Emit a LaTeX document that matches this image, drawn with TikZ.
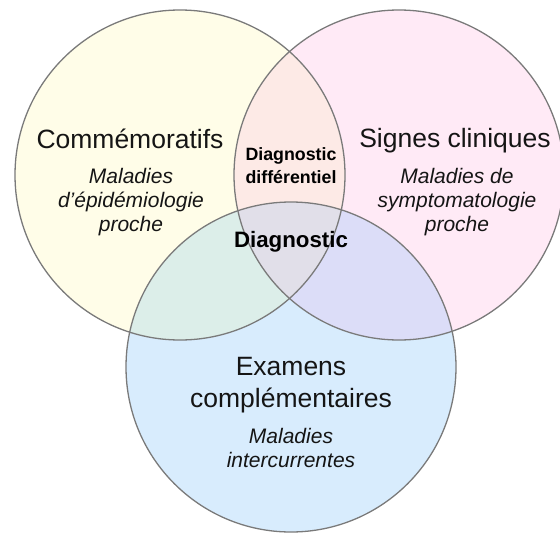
\documentclass[tikz,border=0pt]{standalone}
\usepackage{fontspec}
\setmainfont{Liberation Sans}
\definecolor{cL}{HTML}{FFFDE8}
\definecolor{cR}{HTML}{FFEAF6}
\definecolor{cB}{HTML}{D8ECFD}
\definecolor{cLR}{HTML}{FDEAE6}
\definecolor{cLB}{HTML}{DCEEE9}
\definecolor{cRB}{HTML}{DCDDF8}
\definecolor{cC}{HTML}{E1DFE9}
\definecolor{edge}{HTML}{7A7A7A}
\definecolor{ink}{HTML}{151515}
\tikzset{
  ring/.style={draw=edge, line width=1.3pt},
  title/.style={anchor=base, inner sep=0pt, text=ink, font=\fontsize{26.5}{30}\selectfont},
  sub/.style={anchor=base, inner sep=0pt, text=ink, font=\fontsize{21}{24}\selectfont\itshape},
  bsmall/.style={anchor=base, inner sep=0pt, text=black, font=\fontsize{17.8}{20}\selectfont\bfseries},
  bbig/.style={anchor=base, inner sep=0pt, text=black, font=\fontsize{22.3}{25}\selectfont\bfseries}
}
\begin{document}
\begin{tikzpicture}[x=1pt,y=-1pt]
\useasboundingbox (0,0) rectangle (560,533);
\coordinate (L) at (180,175);
\coordinate (R) at (399,175);
\coordinate (B) at (291,367);
\def\rr{165pt}
\fill[cL] (L) circle[radius=\rr];
\fill[cR] (R) circle[radius=\rr];
\fill[cB] (B) circle[radius=\rr];
\begin{scope}\clip (L) circle[radius=\rr]; \fill[cLR] (R) circle[radius=\rr];\end{scope}
\begin{scope}\clip (L) circle[radius=\rr]; \fill[cLB] (B) circle[radius=\rr];\end{scope}
\begin{scope}\clip (R) circle[radius=\rr]; \fill[cRB] (B) circle[radius=\rr];\end{scope}
\begin{scope}\clip (L) circle[radius=\rr]; \clip (R) circle[radius=\rr]; \fill[cC] (B) circle[radius=\rr];\end{scope}
\draw[ring] (L) circle[radius=\rr];
\draw[ring] (R) circle[radius=\rr];
\draw[ring] (B) circle[radius=\rr];
% left
\node[title] (t1) at (130,148) {Commémoratifs};
\node[sub] (s1a) at (131,183) {Maladies};
\node[sub] (s1b) at (131,207) {d’épidémiologie};
\node[sub] (s1c) at (131,231) {proche};
% right
\node[title] (t2) at (455,147) {Signes cliniques};
\node[sub] (s2a) at (457,183) {Maladies de};
\node[sub] (s2b) at (457,207) {symptomatologie};
\node[sub] (s2c) at (457,231) {proche};
% bottom
\node[title] (t3a) at (291,375) {Examens};
\node[title] (t3b) at (291,407) {complémentaires};
\node[sub] (s3a) at (291,443) {Maladies};
\node[sub] (s3b) at (291,467) {intercurrentes};
% centre
\node[bsmall] (d1) at (291,160) {Diagnostic};
\node[bsmall] (d2) at (291,183) {différentiel};
\node[bbig] (d3) at (291,247) {Diagnostic};
\end{tikzpicture}
\end{document}
